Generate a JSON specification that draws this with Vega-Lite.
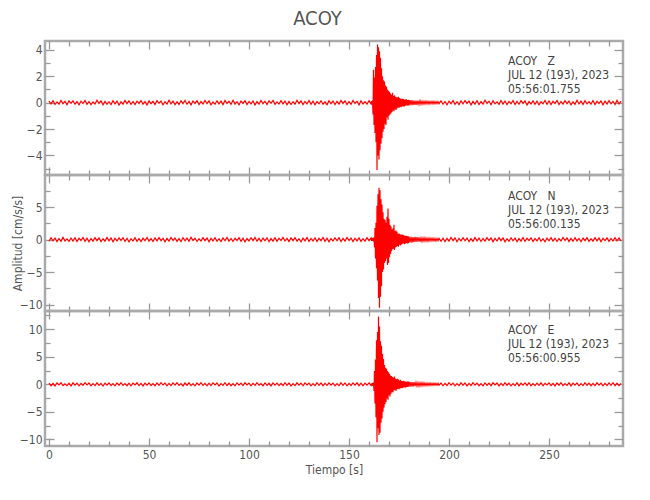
{
  "$schema": "https://vega.github.io/schema/vega-lite/v6.json",
  "padding": {"left": 9, "top": 9, "right": 20, "bottom": 5},
  "background": "white",
  "title": {"text": "ACOY", "fontSize": 20, "font": "DejaVu Sans Condensed, sans-serif", "fontWeight": "normal", "color": "#555555", "anchor": "middle", "offset": 10},
  "config": {
    "view": {"stroke": "#aaaaaa", "strokeWidth": 2.5},
    "axis": {"domain": false, "grid": false, "labelFont": "DejaVu Sans Condensed, sans-serif", "labelFontSize": 12, "labelColor": "#555555", "tickColor": "#999999", "tickWidth": 1.3, "titleFont": "DejaVu Sans Condensed, sans-serif", "titleFontSize": 12, "titleFontWeight": "normal", "titleColor": "#555555"},
    "text": {"font": "DejaVu Sans Condensed, sans-serif"}
  },
  "datasets": {
    "trace": [
      {"t":0,"z":0.12,"n":-0.25,"e":0.20},{"t":1,"z":-0.09,"n":0.30,"e":-0.26},{"t":2,"z":0.15,"n":-0.18,"e":0.14},{"t":3,"z":-0.14,"n":0.22,"e":-0.30},{"t":4,"z":0.06,"n":-0.32,"e":0.24},{"t":5,"z":-0.11,"n":0.15,"e":-0.12},{"t":6,"z":0.17,"n":-0.27,"e":0.28},{"t":7,"z":-0.08,"n":0.34,"e":-0.22},{"t":8,"z":0.10,"n":-0.20,"e":0.10},{"t":9,"z":-0.16,"n":0.12,"e":-0.25},
      {"t":10,"z":0.13,"n":-0.29,"e":0.18},{"t":11,"z":-0.05,"n":0.24,"e":-0.30},{"t":12,"z":0.14,"n":-0.22,"e":0.26},{"t":13,"z":-0.12,"n":0.28,"e":-0.16},{"t":14,"z":0.08,"n":-0.31,"e":0.22},{"t":15,"z":-0.17,"n":0.19,"e":-0.28},{"t":16,"z":0.11,"n":-0.14,"e":0.15},{"t":17,"z":-0.07,"n":0.33,"e":-0.20},{"t":18,"z":0.16,"n":-0.26,"e":0.29},{"t":19,"z":-0.13,"n":0.21,"e":-0.11},
      {"t":20,"z":0.09,"n":-0.35,"e":0.23},{"t":21,"z":-0.15,"n":0.16,"e":-0.27},{"t":22,"z":0.05,"n":-0.23,"e":0.12},{"t":23,"z":-0.10,"n":0.29,"e":-0.24},{"t":24,"z":0.18,"n":-0.17,"e":0.27},{"t":25,"z":-0.06,"n":0.25,"e":-0.19},{"t":26,"z":0.13,"n":-0.30,"e":0.16},{"t":27,"z":-0.16,"n":0.13,"e":-0.31},{"t":28,"z":0.10,"n":-0.24,"e":0.21},{"t":29,"z":-0.12,"n":0.32,"e":-0.14},
      {"t":30,"z":0.07,"n":-0.19,"e":0.25},{"t":31,"z":-0.14,"n":0.26,"e":-0.23},{"t":32,"z":0.15,"n":-0.33,"e":0.11},{"t":33,"z":-0.09,"n":0.18,"e":-0.29},{"t":34,"z":0.12,"n":-0.21,"e":0.24},{"t":35,"z":-0.18,"n":0.27,"e":-0.17},{"t":36,"z":0.06,"n":-0.15,"e":0.30},{"t":37,"z":-0.11,"n":0.31,"e":-0.21},{"t":38,"z":0.17,"n":-0.28,"e":0.13},{"t":39,"z":-0.07,"n":0.20,"e":-0.26},
      {"t":40,"z":0.14,"n":-0.34,"e":0.19},{"t":41,"z":-0.13,"n":0.14,"e":-0.28},{"t":42,"z":0.09,"n":-0.22,"e":0.22},{"t":43,"z":-0.15,"n":0.29,"e":-0.12},{"t":44,"z":0.11,"n":-0.26,"e":0.27},{"t":45,"z":-0.06,"n":0.17,"e":-0.24},{"t":46,"z":0.16,"n":-0.31,"e":0.15},{"t":47,"z":-0.12,"n":0.23,"e":-0.30},{"t":48,"z":0.08,"n":-0.18,"e":0.20},{"t":49,"z":-0.17,"n":0.33,"e":-0.16},
      {"t":50,"z":0.13,"n":-0.24,"e":0.26},{"t":51,"z":-0.08,"n":0.15,"e":-0.22},{"t":52,"z":0.10,"n":-0.29,"e":0.12},{"t":53,"z":-0.14,"n":0.27,"e":-0.27},{"t":54,"z":0.15,"n":-0.20,"e":0.23},{"t":55,"z":-0.05,"n":0.30,"e":-0.18},{"t":56,"z":0.12,"n":-0.16,"e":0.29},{"t":57,"z":-0.16,"n":0.21,"e":-0.13},{"t":58,"z":0.07,"n":-0.35,"e":0.21},{"t":59,"z":-0.11,"n":0.19,"e":-0.29},
      {"t":60,"z":0.18,"n":-0.25,"e":0.16},{"t":61,"z":-0.09,"n":0.32,"e":-0.24},{"t":62,"z":0.11,"n":-0.13,"e":0.25},{"t":63,"z":-0.15,"n":0.24,"e":-0.15},{"t":64,"z":0.06,"n":-0.28,"e":0.28},{"t":65,"z":-0.13,"n":0.16,"e":-0.21},{"t":66,"z":0.14,"n":-0.32,"e":0.13},{"t":67,"z":-0.07,"n":0.28,"e":-0.30},{"t":68,"z":0.16,"n":-0.19,"e":0.22},{"t":69,"z":-0.12,"n":0.22,"e":-0.17},
      {"t":70,"z":0.09,"n":-0.27,"e":0.27},{"t":71,"z":-0.17,"n":0.35,"e":-0.25},{"t":72,"z":0.12,"n":-0.15,"e":0.11},{"t":73,"z":-0.06,"n":0.20,"e":-0.28},{"t":74,"z":0.15,"n":-0.30,"e":0.24},{"t":75,"z":-0.14,"n":0.13,"e":-0.14},{"t":76,"z":0.08,"n":-0.23,"e":0.29},{"t":77,"z":-0.10,"n":0.31,"e":-0.20},{"t":78,"z":0.17,"n":-0.17,"e":0.17},{"t":79,"z":-0.08,"n":0.26,"e":-0.27},
      {"t":80,"z":0.13,"n":-0.33,"e":0.20},{"t":81,"z":-0.16,"n":0.18,"e":-0.23},{"t":82,"z":0.05,"n":-0.21,"e":0.26},{"t":83,"z":-0.12,"n":0.29,"e":-0.12},{"t":84,"z":0.14,"n":-0.26,"e":0.23},{"t":85,"z":-0.09,"n":0.14,"e":-0.31},{"t":86,"z":0.11,"n":-0.31,"e":0.14},{"t":87,"z":-0.15,"n":0.25,"e":-0.19},{"t":88,"z":0.16,"n":-0.18,"e":0.28},{"t":89,"z":-0.07,"n":0.33,"e":-0.22},
      {"t":90,"z":0.10,"n":-0.24,"e":0.19},{"t":91,"z":-0.13,"n":0.17,"e":-0.26},{"t":92,"z":0.18,"n":-0.29,"e":0.12},{"t":93,"z":-0.11,"n":0.21,"e":-0.29},{"t":94,"z":0.07,"n":-0.14,"e":0.25},{"t":95,"z":-0.16,"n":0.30,"e":-0.16},{"t":96,"z":0.12,"n":-0.27,"e":0.21},{"t":97,"z":-0.06,"n":0.23,"e":-0.24},{"t":98,"z":0.15,"n":-0.34,"e":0.27},{"t":99,"z":-0.14,"n":0.16,"e":-0.13},
      {"t":100,"z":0.09,"n":-0.20,"e":0.22},{"t":101,"z":-0.10,"n":0.28,"e":-0.28},{"t":102,"z":0.13,"n":-0.16,"e":0.16},{"t":103,"z":-0.17,"n":0.32,"e":-0.21},{"t":104,"z":0.08,"n":-0.25,"e":0.30},{"t":105,"z":-0.12,"n":0.19,"e":-0.17},{"t":106,"z":0.16,"n":-0.30,"e":0.13},{"t":107,"z":-0.08,"n":0.24,"e":-0.26},{"t":108,"z":0.11,"n":-0.18,"e":0.24},{"t":109,"z":-0.15,"n":0.27,"e":-0.20},
      {"t":110,"z":0.14,"n":-0.32,"e":0.18},{"t":111,"z":-0.05,"n":0.15,"e":-0.29},{"t":112,"z":0.17,"n":-0.23,"e":0.26},{"t":113,"z":-0.13,"n":0.30,"e":-0.14},{"t":114,"z":0.06,"n":-0.27,"e":0.21},{"t":115,"z":-0.11,"n":0.21,"e":-0.25},{"t":116,"z":0.15,"n":-0.15,"e":0.15},{"t":117,"z":-0.09,"n":0.34,"e":-0.22},{"t":118,"z":0.12,"n":-0.22,"e":0.28},{"t":119,"z":-0.16,"n":0.18,"e":-0.18},
      {"t":120,"z":0.10,"n":-0.31,"e":0.23},{"t":121,"z":-0.14,"n":0.26,"e":-0.30},{"t":122,"z":0.07,"n":-0.17,"e":0.12},{"t":123,"z":-0.12,"n":0.29,"e":-0.24},{"t":124,"z":0.18,"n":-0.24,"e":0.27},{"t":125,"z":-0.07,"n":0.14,"e":-0.16},{"t":126,"z":0.13,"n":-0.33,"e":0.20},{"t":127,"z":-0.15,"n":0.22,"e":-0.27},{"t":128,"z":0.09,"n":-0.19,"e":0.25},{"t":129,"z":-0.10,"n":0.31,"e":-0.13},
      {"t":130,"z":0.16,"n":-0.28,"e":0.22},{"t":131,"z":-0.13,"n":0.17,"e":-0.28},{"t":132,"z":0.11,"n":-0.21,"e":0.14},{"t":133,"z":-0.17,"n":0.27,"e":-0.23},{"t":134,"z":0.08,"n":-0.30,"e":0.29},{"t":135,"z":-0.09,"n":0.20,"e":-0.19},{"t":136,"z":0.14,"n":-0.16,"e":0.24},{"t":137,"z":-0.12,"n":0.33,"e":-0.26},{"t":138,"z":0.06,"n":-0.26,"e":0.17},{"t":139,"z":-0.16,"n":0.23,"e":-0.21},
      {"t":140,"z":0.15,"n":-0.34,"e":0.26},{"t":141,"z":-0.08,"n":0.16,"e":-0.15},{"t":142,"z":0.12,"n":-0.22,"e":0.21},{"t":143,"z":-0.14,"n":0.28,"e":-0.29},{"t":144,"z":0.10,"n":-0.18,"e":0.13},{"t":145,"z":-0.11,"n":0.30,"e":-0.24},{"t":146,"z":0.17,"n":-0.29,"e":0.28},{"t":147,"z":-0.06,"n":0.19,"e":-0.18},{"t":148,"z":0.13,"n":-0.25,"e":0.23},{"t":149,"z":-0.15,"n":0.32,"e":-0.27},
      {"t":150,"z":0.09,"n":-0.15,"e":0.16},{"t":151,"z":-0.13,"n":0.24,"e":-0.22},{"t":152,"z":0.16,"n":-0.31,"e":0.25},{"t":153,"z":-0.07,"n":0.21,"e":-0.14},{"t":154,"z":0.11,"n":-0.20,"e":0.27},{"t":155,"z":-0.17,"n":0.27,"e":-0.25},{"t":156,"z":0.14,"n":-0.28,"e":0.19},{"t":157,"z":-0.10,"n":0.15,"e":-0.28},{"t":158,"z":0.08,"n":-0.23,"e":0.22},{"t":159,"z":-0.12,"n":0.30,"e":-0.17},
      {"t":160,"z":0.15,"n":-0.17,"e":0.24},{"t":161,"z":-0.09,"n":0.25,"e":-0.21},
      {"t":161.25,"z":0.11,"n":-0.22,"e":0.18},{"t":161.5,"z":-0.13,"n":0.27,"e":-0.24},{"t":161.75,"z":0.16,"n":-0.19,"e":0.21},{"t":162,"z":-0.9,"n":0.24,"e":-0.27},
      {"t":162.25,"z":2.5,"n":-0.3,"e":0.3},{"t":162.5,"z":-1.7,"n":0.35,"e":-1.2},{"t":162.75,"z":1.9,"n":-1.2,"e":2.4},{"t":163,"z":-2.3,"n":1.8,"e":-3.5},
      {"t":163.25,"z":2.7,"n":-2.9,"e":4.5},{"t":163.5,"z":-3.0,"n":2.6,"e":-6.0},{"t":163.75,"z":3.6,"n":-4.4,"e":8.0},{"t":164,"z":-5.1,"n":5.2,"e":-10.5},
      {"t":164.25,"z":4.4,"n":-6.3,"e":9.5},{"t":164.5,"z":-4.0,"n":7.0,"e":-8.0},{"t":164.75,"z":4.2,"n":-9.0,"e":12.3},{"t":165,"z":-4.3,"n":8.0,"e":-9.2},
      {"t":165.25,"z":3.9,"n":-10.5,"e":10.5},{"t":165.5,"z":-3.6,"n":7.6,"e":-8.8},{"t":165.75,"z":3.4,"n":-8.8,"e":7.8},{"t":166,"z":-3.1,"n":6.2,"e":-7.0},
      {"t":166.25,"z":2.6,"n":-7.2,"e":7.0},{"t":166.5,"z":-2.7,"n":5.4,"e":-6.2},{"t":166.75,"z":2.0,"n":-5.0,"e":5.5},{"t":167,"z":-2.2,"n":4.2,"e":-5.0},
      {"t":167.25,"z":1.7,"n":-4.6,"e":4.6},{"t":167.5,"z":-2.0,"n":3.2,"e":-4.2},{"t":167.75,"z":1.6,"n":-3.6,"e":3.5},{"t":168,"z":-1.6,"n":3.0,"e":-3.6},
      {"t":168.25,"z":1.3,"n":-3.3,"e":3.0},{"t":168.5,"z":-1.7,"n":2.6,"e":-3.2},{"t":168.75,"z":1.2,"n":-2.9,"e":2.8},{"t":169,"z":-1.1,"n":3.5,"e":-2.6},
      {"t":169.25,"z":1.0,"n":-3.9,"e":2.4},{"t":169.5,"z":-1.3,"n":4.8,"e":-2.8},{"t":169.75,"z":0.9,"n":-3.6,"e":2.2},{"t":170,"z":-1.0,"n":3.2,"e":-2.0},
      {"t":170.25,"z":0.8,"n":-2.7,"e":1.9},{"t":170.5,"z":-0.9,"n":2.3,"e":-2.2},{"t":170.75,"z":0.7,"n":-2.2,"e":1.6},{"t":171,"z":-0.8,"n":2.0,"e":-1.7},
      {"t":171.25,"z":0.6,"n":-1.8,"e":1.5},{"t":171.5,"z":-0.7,"n":1.6,"e":-1.4},{"t":171.75,"z":0.75,"n":-1.5,"e":1.3},{"t":172,"z":-0.6,"n":1.7,"e":-1.5},
      {"t":172.25,"z":0.5,"n":-1.4,"e":1.2},{"t":172.5,"z":-0.65,"n":2.3,"e":-1.1},{"t":172.75,"z":0.55,"n":-1.6,"e":1.4},{"t":173,"z":-0.5,"n":1.3,"e":-1.0},
      {"t":173.25,"z":0.45,"n":-1.2,"e":1.0},{"t":173.5,"z":-0.55,"n":1.4,"e":-1.2},{"t":173.75,"z":0.4,"n":-1.1,"e":0.9},{"t":174,"z":-0.45,"n":1.2,"e":-0.9},
      {"t":174.25,"z":0.4,"n":-1.0,"e":1.0},{"t":174.5,"z":-0.35,"n":0.9,"e":-0.8},{"t":174.75,"z":0.45,"n":-1.1,"e":0.85},{"t":175,"z":-0.4,"n":0.95,"e":-0.9},
      {"t":175.25,"z":0.35,"n":-0.8,"e":0.7},{"t":175.5,"z":-0.3,"n":0.85,"e":-0.75},{"t":175.75,"z":0.32,"n":-0.9,"e":0.8},{"t":176,"z":-0.35,"n":0.7,"e":-0.65},
      {"t":176.25,"z":0.3,"n":-0.75,"e":0.6},{"t":176.5,"z":-0.28,"n":0.8,"e":-0.7},{"t":176.75,"z":0.3,"n":-0.65,"e":0.55},{"t":177,"z":-0.25,"n":0.7,"e":-0.6},
      {"t":177.25,"z":0.27,"n":-0.6,"e":0.65},{"t":177.5,"z":-0.3,"n":0.65,"e":-0.5},{"t":177.75,"z":0.22,"n":-0.7,"e":0.55},{"t":178,"z":-0.25,"n":0.55,"e":-0.6},
      {"t":178.25,"z":0.24,"n":-0.6,"e":0.5},{"t":178.5,"z":-0.2,"n":0.6,"e":-0.55},{"t":178.75,"z":0.26,"n":-0.5,"e":0.45},{"t":179,"z":-0.22,"n":0.55,"e":-0.5},
      {"t":179.25,"z":0.2,"n":-0.6,"e":0.5},{"t":179.5,"z":-0.24,"n":0.5,"e":-0.45},{"t":179.75,"z":0.21,"n":-0.55,"e":0.5},{"t":180,"z":-0.2,"n":0.48,"e":-0.42},
      {"t":180.5,"z":0.2,"n":-0.45,"e":0.42},{"t":181,"z":-0.18,"n":0.42,"e":-0.44},{"t":181.5,"z":0.19,"n":-0.46,"e":0.38},{"t":182,"z":-0.18,"n":0.38,"e":-0.4},
      {"t":182.5,"z":0.16,"n":-0.4,"e":0.37},{"t":183,"z":-0.17,"n":0.42,"e":-0.34},{"t":183.5,"z":0.15,"n":-0.35,"e":0.36},{"t":184,"z":-0.16,"n":0.37,"e":-0.33},
      {"t":184.5,"z":0.15,"n":-0.32,"e":0.3},{"t":185,"z":-0.13,"n":0.34,"e":-0.32},{"t":185.5,"z":0.14,"n":-0.33,"e":0.28},{"t":186,"z":-0.12,"n":0.28,"e":-0.27},
      {"t":186.5,"z":0.11,"n":-0.3,"e":0.28},{"t":187,"z":-0.12,"n":0.27,"e":-0.25},{"t":187.5,"z":0.1,"n":-0.25,"e":0.26},{"t":188,"z":-0.1,"n":0.27,"e":-0.24},
      {"t":188.5,"z":0.11,"n":-0.24,"e":0.22},{"t":189,"z":-0.09,"n":0.22,"e":-0.24},{"t":189.5,"z":0.1,"n":-0.25,"e":0.21},{"t":190,"z":-0.1,"n":0.22,"e":-0.2},
      {"t":190.5,"z":0.09,"n":-0.2,"e":0.22},{"t":191,"z":-0.08,"n":0.22,"e":-0.2},{"t":191.5,"z":0.1,"n":-0.19,"e":0.19},{"t":192,"z":-0.09,"n":0.21,"e":-0.2},
      {"t":192.5,"z":0.08,"n":-0.2,"e":0.19},{"t":193,"z":-0.09,"n":0.18,"e":-0.17},{"t":193.5,"z":0.08,"n":-0.2,"e":0.19},{"t":194,"z":-0.07,"n":0.17,"e":-0.18},
      {"t":194.5,"z":0.08,"n":-0.18,"e":0.17},{"t":195,"z":-0.08,"n":0.19,"e":-0.18},
      {"t":196,"z":0.14,"n":-0.26,"e":0.23},{"t":197,"z":-0.12,"n":0.21,"e":-0.27},{"t":198,"z":0.09,"n":-0.3,"e":0.15},{"t":199,"z":-0.16,"n":0.18,"e":-0.22},
      {"t":200,"z":0.11,"n":-0.24,"e":0.28},{"t":201,"z":-0.08,"n":0.32,"e":-0.16},{"t":202,"z":0.17,"n":-0.16,"e":0.21},{"t":203,"z":-0.13,"n":0.27,"e":-0.29},{"t":204,"z":0.07,"n":-0.33,"e":0.12},{"t":205,"z":-0.15,"n":0.2,"e":-0.24},{"t":206,"z":0.13,"n":-0.22,"e":0.26},{"t":207,"z":-0.1,"n":0.29,"e":-0.19},{"t":208,"z":0.16,"n":-0.18,"e":0.24},{"t":209,"z":-0.06,"n":0.24,"e":-0.3},
      {"t":210,"z":0.12,"n":-0.31,"e":0.17},{"t":211,"z":-0.17,"n":0.15,"e":-0.21},{"t":212,"z":0.1,"n":-0.27,"e":0.29},{"t":213,"z":-0.11,"n":0.33,"e":-0.14},{"t":214,"z":0.15,"n":-0.2,"e":0.22},{"t":215,"z":-0.14,"n":0.23,"e":-0.26},{"t":216,"z":0.08,"n":-0.29,"e":0.13},{"t":217,"z":-0.12,"n":0.17,"e":-0.28},{"t":218,"z":0.18,"n":-0.24,"e":0.25},{"t":219,"z":-0.07,"n":0.3,"e":-0.18},
      {"t":220,"z":0.11,"n":-0.15,"e":0.2},{"t":221,"z":-0.16,"n":0.26,"e":-0.25},{"t":222,"z":0.14,"n":-0.32,"e":0.27},{"t":223,"z":-0.09,"n":0.19,"e":-0.12},{"t":224,"z":0.06,"n":-0.22,"e":0.23},{"t":225,"z":-0.13,"n":0.31,"e":-0.29},{"t":226,"z":0.16,"n":-0.17,"e":0.16},{"t":227,"z":-0.11,"n":0.25,"e":-0.22},{"t":228,"z":0.12,"n":-0.34,"e":0.28},{"t":229,"z":-0.15,"n":0.14,"e":-0.17},
      {"t":230,"z":0.09,"n":-0.25,"e":0.21},{"t":231,"z":-0.08,"n":0.28,"e":-0.27},{"t":232,"z":0.17,"n":-0.19,"e":0.14},{"t":233,"z":-0.14,"n":0.22,"e":-0.23},{"t":234,"z":0.1,"n":-0.3,"e":0.26},{"t":235,"z":-0.12,"n":0.16,"e":-0.3},{"t":236,"z":0.15,"n":-0.23,"e":0.19},{"t":237,"z":-0.06,"n":0.33,"e":-0.15},{"t":238,"z":0.13,"n":-0.28,"e":0.24},{"t":239,"z":-0.17,"n":0.2,"e":-0.21},
      {"t":240,"z":0.08,"n":-0.16,"e":0.29},{"t":241,"z":-0.1,"n":0.27,"e":-0.26},{"t":242,"z":0.14,"n":-0.31,"e":0.12},{"t":243,"z":-0.13,"n":0.18,"e":-0.24},{"t":244,"z":0.11,"n":-0.21,"e":0.22},{"t":245,"z":-0.16,"n":0.3,"e":-0.19},{"t":246,"z":0.07,"n":-0.26,"e":0.27},{"t":247,"z":-0.09,"n":0.14,"e":-0.28},{"t":248,"z":0.16,"n":-0.33,"e":0.18},{"t":249,"z":-0.12,"n":0.24,"e":-0.13},
      {"t":250,"z":0.13,"n":-0.18,"e":0.25},{"t":251,"z":-0.15,"n":0.29,"e":-0.22},{"t":252,"z":0.1,"n":-0.24,"e":0.15},{"t":253,"z":-0.07,"n":0.21,"e":-0.29},{"t":254,"z":0.17,"n":-0.29,"e":0.23},{"t":255,"z":-0.14,"n":0.16,"e":-0.17},{"t":256,"z":0.09,"n":-0.22,"e":0.28},{"t":257,"z":-0.11,"n":0.32,"e":-0.25},{"t":258,"z":0.15,"n":-0.15,"e":0.13},{"t":259,"z":-0.08,"n":0.26,"e":-0.21},
      {"t":260,"z":0.12,"n":-0.3,"e":0.26},{"t":261,"z":-0.16,"n":0.19,"e":-0.3},{"t":262,"z":0.06,"n":-0.25,"e":0.2},{"t":263,"z":-0.13,"n":0.28,"e":-0.16},{"t":264,"z":0.18,"n":-0.2,"e":0.24},{"t":265,"z":-0.1,"n":0.17,"e":-0.27},{"t":266,"z":0.11,"n":-0.32,"e":0.14},{"t":267,"z":-0.15,"n":0.23,"e":-0.23},{"t":268,"z":0.14,"n":-0.17,"e":0.29},{"t":269,"z":-0.09,"n":0.3,"e":-0.18},
      {"t":270,"z":0.08,"n":-0.27,"e":0.22},{"t":271,"z":-0.12,"n":0.15,"e":-0.26},{"t":272,"z":0.16,"n":-0.23,"e":0.17},{"t":273,"z":-0.14,"n":0.31,"e":-0.24},{"t":274,"z":0.1,"n":-0.19,"e":0.27},{"t":275,"z":-0.07,"n":0.25,"e":-0.14},{"t":276,"z":0.13,"n":-0.34,"e":0.21},{"t":277,"z":-0.17,"n":0.2,"e":-0.29},{"t":278,"z":0.12,"n":-0.16,"e":0.16},{"t":279,"z":-0.11,"n":0.27,"e":-0.22},
      {"t":280,"z":0.15,"n":-0.28,"e":0.25},{"t":281,"z":-0.08,"n":0.18,"e":-0.19},{"t":282,"z":0.09,"n":-0.22,"e":0.28},{"t":283,"z":-0.14,"n":0.29,"e":-0.25},{"t":284,"z":0.17,"n":-0.18,"e":0.2},{"t":285,"z":-0.1,"n":0.24,"e":-0.23},{"t":286,"z":0.12,"n":-0.2,"e":0.18}
    ]
  },
  "vconcat": [
    {
      "width": 578, "height": 134,
      "layer": [
        {
          "data": {"name": "trace"},
          "mark": {"type": "line", "color": "#ff0000", "strokeWidth": 1.2, "clip": true},
          "encoding": {
            "x": {"field": "t", "type": "quantitative", "scale": {"domain": [-2, 287], "nice": false, "zero": false},
                  "axis": {"orient": "bottom", "values": [0,10,20,30,40,50,60,70,80,90,100,110,120,130,140,150,160,170,180,190,200,210,220,230,240,250,260,270,280], "labels": false, "title": null, "tickSize": {"condition": {"test": "datum.value % 50 === 0", "value": -8}, "value": -5}}},
            "y": {"field": "z", "type": "quantitative", "scale": {"domain": [-5.48, 4.67], "nice": false, "zero": false},
                  "axis": {"orient": "left", "values": [-5,-4,-3,-2,-1,0,1,2,3,4], "title": null, "labelExpr": "datum.value % 2 === 0 ? datum.label : ''", "labelPadding": 12, "tickSize": {"condition": {"test": "datum.value % 2 === 0", "value": -9}, "value": -5}}}
          }
        },
        {
          "data": {"values": [{"label": "ACOY\u00a0\u00a0\u00a0Z\nJUL 12 (193), 2023\n05:56:01.755"}]},
          "mark": {"type": "text", "align": "left", "baseline": "top", "lineBreak": "\n", "fontSize": 12, "lineHeight": 14, "color": "#444444"},
          "encoding": {
            "x": {"datum": 229.5, "type": "quantitative", "axis": {"orient": "top", "values": [0,10,20,30,40,50,60,70,80,90,100,110,120,130,140,150,160,170,180,190,200,210,220,230,240,250,260,270,280], "labels": false, "title": null, "tickSize": {"condition": {"test": "datum.value % 50 === 0", "value": -8}, "value": -5}}},
            "y": {"datum": 3.54, "type": "quantitative", "axis": {"orient": "right", "values": [-5,-4,-3,-2,-1,0,1,2,3,4], "labels": false, "title": null, "tickSize": {"condition": {"test": "datum.value % 2 === 0", "value": -9}, "value": -5}}},
            "text": {"field": "label"}
          }
        }
      ],
      "resolve": {"axis": {"x": "independent", "y": "independent"}}
    },
    {
      "width": 578, "height": 136,
      "layer": [
        {
          "data": {"name": "trace"},
          "mark": {"type": "line", "color": "#ff0000", "strokeWidth": 1.2, "clip": true},
          "encoding": {
            "x": {"field": "t", "type": "quantitative", "scale": {"domain": [-2, 287], "nice": false, "zero": false},
                  "axis": {"orient": "bottom", "values": [0,10,20,30,40,50,60,70,80,90,100,110,120,130,140,150,160,170,180,190,200,210,220,230,240,250,260,270,280], "labels": false, "title": null, "tickSize": {"condition": {"test": "datum.value % 50 === 0", "value": -8}, "value": -5}}},
            "y": {"field": "n", "type": "quantitative", "scale": {"domain": [-11.0, 9.95], "nice": false, "zero": false},
                  "axis": {"orient": "left", "values": [-10,-7.5,-5,-2.5,0,2.5,5,7.5], "title": "Amplitud  [cm/s/s]", "titlePadding": -5, "labelExpr": "datum.value % 5 === 0 ? datum.label : ''", "labelPadding": 12, "tickSize": {"condition": {"test": "datum.value % 5 === 0", "value": -9}, "value": -5}}}
          }
        },
        {
          "data": {"values": [{"label": "ACOY\u00a0\u00a0\u00a0N\nJUL 12 (193), 2023\n05:56:00.135"}]},
          "mark": {"type": "text", "align": "left", "baseline": "top", "lineBreak": "\n", "fontSize": 12, "lineHeight": 14, "color": "#444444"},
          "encoding": {
            "x": {"datum": 229.5, "type": "quantitative", "axis": {"orient": "top", "values": [0,10,20,30,40,50,60,70,80,90,100,110,120,130,140,150,160,170,180,190,200,210,220,230,240,250,260,270,280], "labels": false, "title": null, "tickSize": {"condition": {"test": "datum.value % 50 === 0", "value": -8}, "value": -5}}},
            "y": {"datum": 7.43, "type": "quantitative", "axis": {"orient": "right", "values": [-10,-7.5,-5,-2.5,0,2.5,5,7.5], "labels": false, "title": null, "tickSize": {"condition": {"test": "datum.value % 5 === 0", "value": -9}, "value": -5}}},
            "text": {"field": "label"}
          }
        }
      ],
      "resolve": {"axis": {"x": "independent", "y": "independent"}}
    },
    {
      "width": 578, "height": 135,
      "layer": [
        {
          "data": {"name": "trace"},
          "mark": {"type": "line", "color": "#ff0000", "strokeWidth": 1.2, "clip": true},
          "encoding": {
            "x": {"field": "t", "type": "quantitative", "scale": {"domain": [-2, 287], "nice": false, "zero": false},
                  "axis": {"orient": "bottom", "values": [0,10,20,30,40,50,60,70,80,90,100,110,120,130,140,150,160,170,180,190,200,210,220,230,240,250,260,270,280], "title": "Tiempo  [s]", "titlePadding": 4, "labelExpr": "datum.value % 50 === 0 ? datum.label : ''", "labelPadding": 11, "tickSize": {"condition": {"test": "datum.value % 50 === 0", "value": -8}, "value": -5}}},
            "y": {"field": "e", "type": "quantitative", "scale": {"domain": [-11.2, 13.3], "nice": false, "zero": false},
                  "axis": {"orient": "left", "values": [-10,-7.5,-5,-2.5,0,2.5,5,7.5,10,12.5], "title": null, "labelExpr": "datum.value % 5 === 0 ? datum.label : ''", "labelPadding": 12, "tickSize": {"condition": {"test": "datum.value % 5 === 0", "value": -9}, "value": -5}}}
          }
        },
        {
          "data": {"values": [{"label": "ACOY\u00a0\u00a0\u00a0E\nJUL 12 (193), 2023\n05:56:00.955"}]},
          "mark": {"type": "text", "align": "left", "baseline": "top", "lineBreak": "\n", "fontSize": 12, "lineHeight": 14, "color": "#444444"},
          "encoding": {
            "x": {"datum": 229.5, "type": "quantitative", "axis": {"orient": "top", "values": [0,10,20,30,40,50,60,70,80,90,100,110,120,130,140,150,160,170,180,190,200,210,220,230,240,250,260,270,280], "labels": false, "title": null, "tickSize": {"condition": {"test": "datum.value % 50 === 0", "value": -8}, "value": -5}}},
            "y": {"datum": 10.8, "type": "quantitative", "axis": {"orient": "right", "values": [-10,-7.5,-5,-2.5,0,2.5,5,7.5,10,12.5], "labels": false, "title": null, "tickSize": {"condition": {"test": "datum.value % 5 === 0", "value": -9}, "value": -5}}},
            "text": {"field": "label"}
          }
        }
      ],
      "resolve": {"axis": {"x": "independent", "y": "independent"}}
    }
  ],
  "spacing": 0,
  "bounds": "flush"
}
